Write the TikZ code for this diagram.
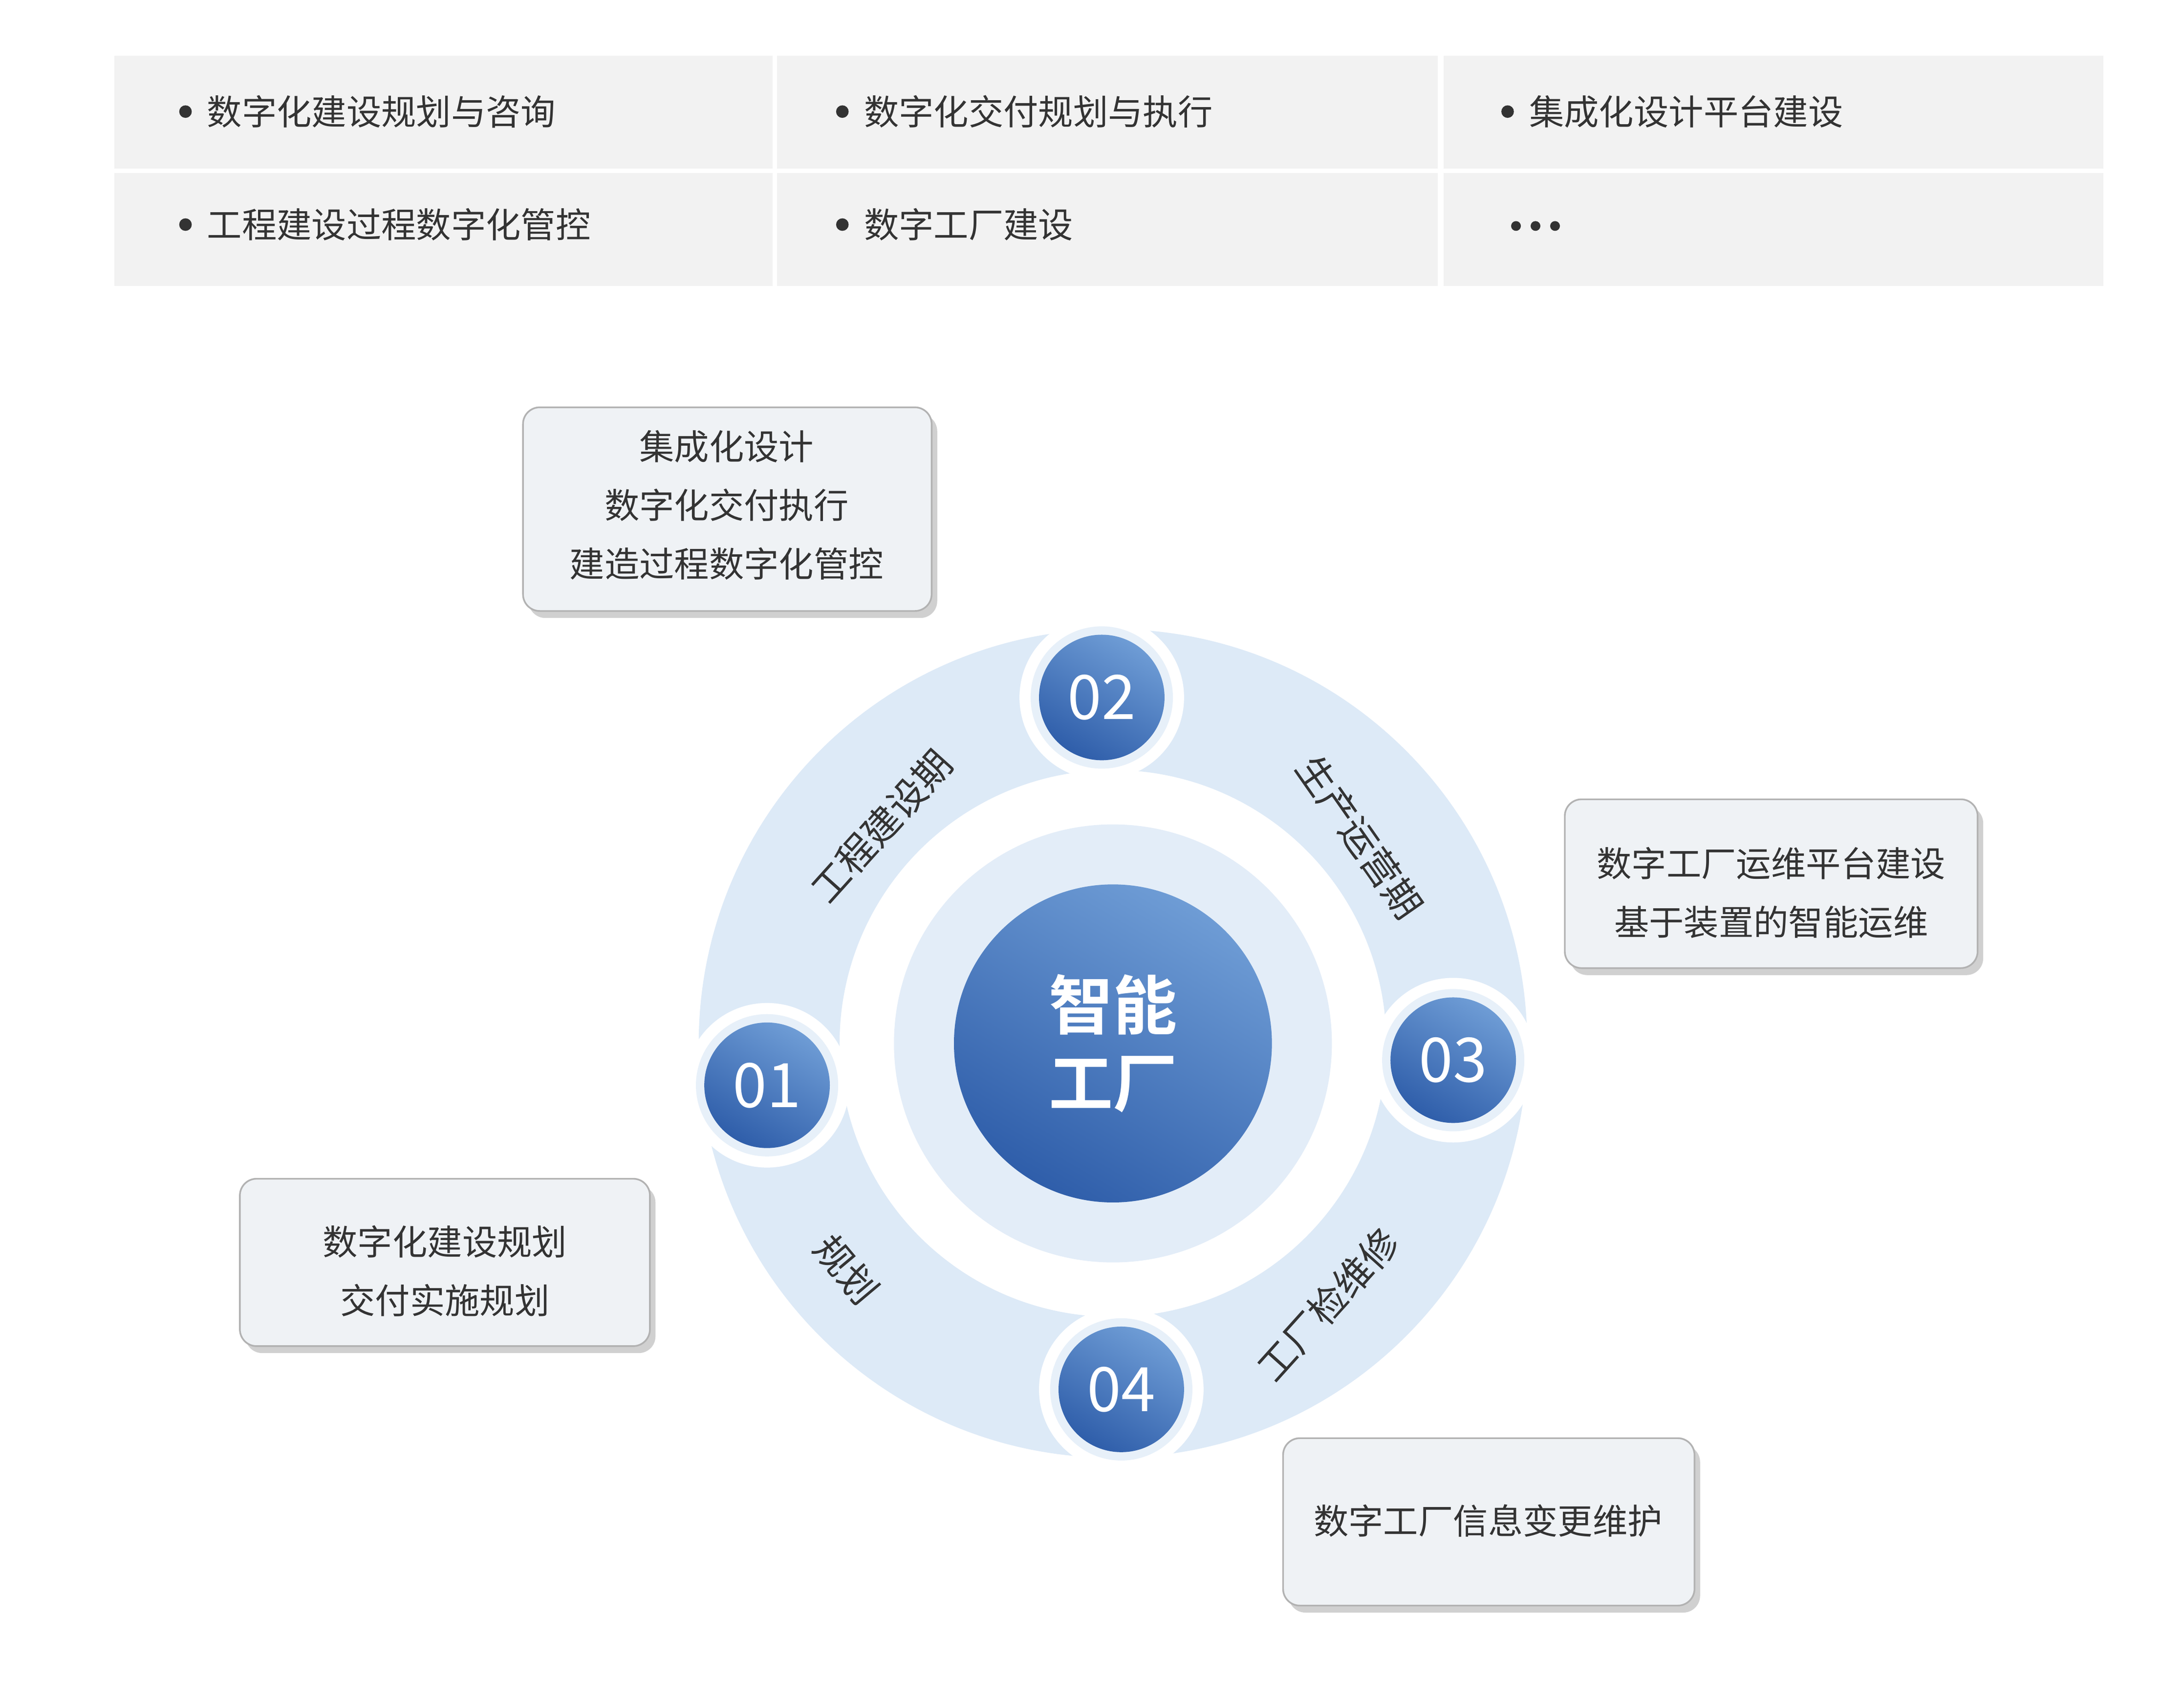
\documentclass[tikz,border=0pt]{standalone}
\usepackage{fontspec}
\setmainfont{Noto Sans CJK SC}
\newfontfamily\cjkb[BoldFont={Noto Sans CJK SC Bold}]{Noto Sans CJK SC}
\usetikzlibrary{shadows}
\definecolor{cellgray}{HTML}{F2F2F2}
\definecolor{ringblue}{HTML}{DDEAF7}
\definecolor{innerblue}{HTML}{E3EDF8}
\definecolor{dblue}{HTML}{2F5EAA}
\definecolor{lblue}{HTML}{6E9CD5}
\definecolor{boxfill}{HTML}{EFF2F5}
\definecolor{txt}{HTML}{333333}
\tikzset{
  cell/.style={fill=cellgray,draw=none},
  ctext/.style={font=\fontsize{25}{30}\selectfont,text=txt,anchor=west},
  infobox/.style={rounded corners=12pt,fill=boxfill,draw=gray!60,line width=1.2pt,
    drop shadow={shadow xshift=4pt,shadow yshift=-5pt,fill=gray!60,opacity=0.6}},
  btext/.style={font=\fontsize{25}{30}\selectfont,text=txt},
  badge/.style={circle,minimum size=90pt,inner sep=0pt,
    top color=lblue,bottom color=dblue,shading angle=-30,text=white,font=\fontsize{44}{50}\selectfont},
  halo/.style={circle,fill=white,minimum size=118pt,inner sep=0pt},
  ringlab/.style={font=\fontsize{27}{30}\selectfont,text=txt}
}
\begin{document}
\begin{tikzpicture}[x=1pt,y=-1pt]
\useasboundingbox (0,0) rectangle (1566,1205);
\fill[white] (0,0) rectangle (1566,1205);
% table
\foreach \xa/\xb in {82/554,557/1031,1035/1508}{
  \fill[cell] (\xa,40) rectangle (\xb,121);
  \fill[cell] (\xa,124) rectangle (\xb,205);
}
\foreach \x/\y/\t [count=\i] in {133/80/数字化建设规划与咨询,604/80/数字化交付规划与执行,1081/80/集成化设计平台建设,133/161/工程建设过程数字化管控,604/161/数字工厂建设}{
  \fill[txt] (\x,\y) circle (4.5);
  \node[ctext] (t\i) at (\x+12,\y) {\t};
}
\foreach \dx in {0,14,28} \fill[txt] (1087+\dx,162) circle (3.5);
% ring
\fill[ringblue,even odd rule] (798,748) circle (297) (798,748) circle (196);
\fill[innerblue] (798,748) circle (157);
\node[circle,minimum size=228pt,inner sep=0pt,top color=lblue,bottom color=dblue,shading angle=-30] (core) at (798,748) {};
\node[text=white,font=\cjkb\bfseries\fontsize{46}{56}\selectfont,align=center] at (core) {智能\\工厂};
% badges
\foreach \n/\x/\y in {01/550/778,02/790/500,03/1042/760,04/804/996}{
  \node[halo] (h\n) at (\x,\y) {};
  \node[circle,fill=ringblue!70,minimum size=102pt,inner sep=0pt] at (\x,\y) {};
  \node[badge] (b\n) at (\x,\y) {\n};
}
% ring labels
\node[ringlab,rotate=48] (l1) at (632,592) {工程建设期};
\node[ringlab,rotate=-55] (l2) at (975,600) {生产运营期};
\node[ringlab,rotate=48] (l3) at (952,935) {工厂检维修};
\node[ringlab,rotate=-50] (l4) at (607,910) {规划};
% boxes
\draw[infobox] (375,292) rectangle (668,438);
\node[btext,align=center] (x1) at (521,362) {集成化设计\\[12pt]数字化交付执行\\[12pt]建造过程数字化管控};
\draw[infobox] (1122,573) rectangle (1418,694);
\node[btext,align=center] (x2) at (1270,640) {数字工厂运维平台建设\\[12pt]基于装置的智能运维};
\draw[infobox] (172,845) rectangle (466,965);
\node[btext,align=center] (x3) at (319,911) {数字化建设规划\\[12pt]交付实施规划};
\draw[infobox] (920,1031) rectangle (1215,1151);
\node[btext] (x4) at (1067,1090) {数字工厂信息变更维护};
\end{tikzpicture}
\end{document}
